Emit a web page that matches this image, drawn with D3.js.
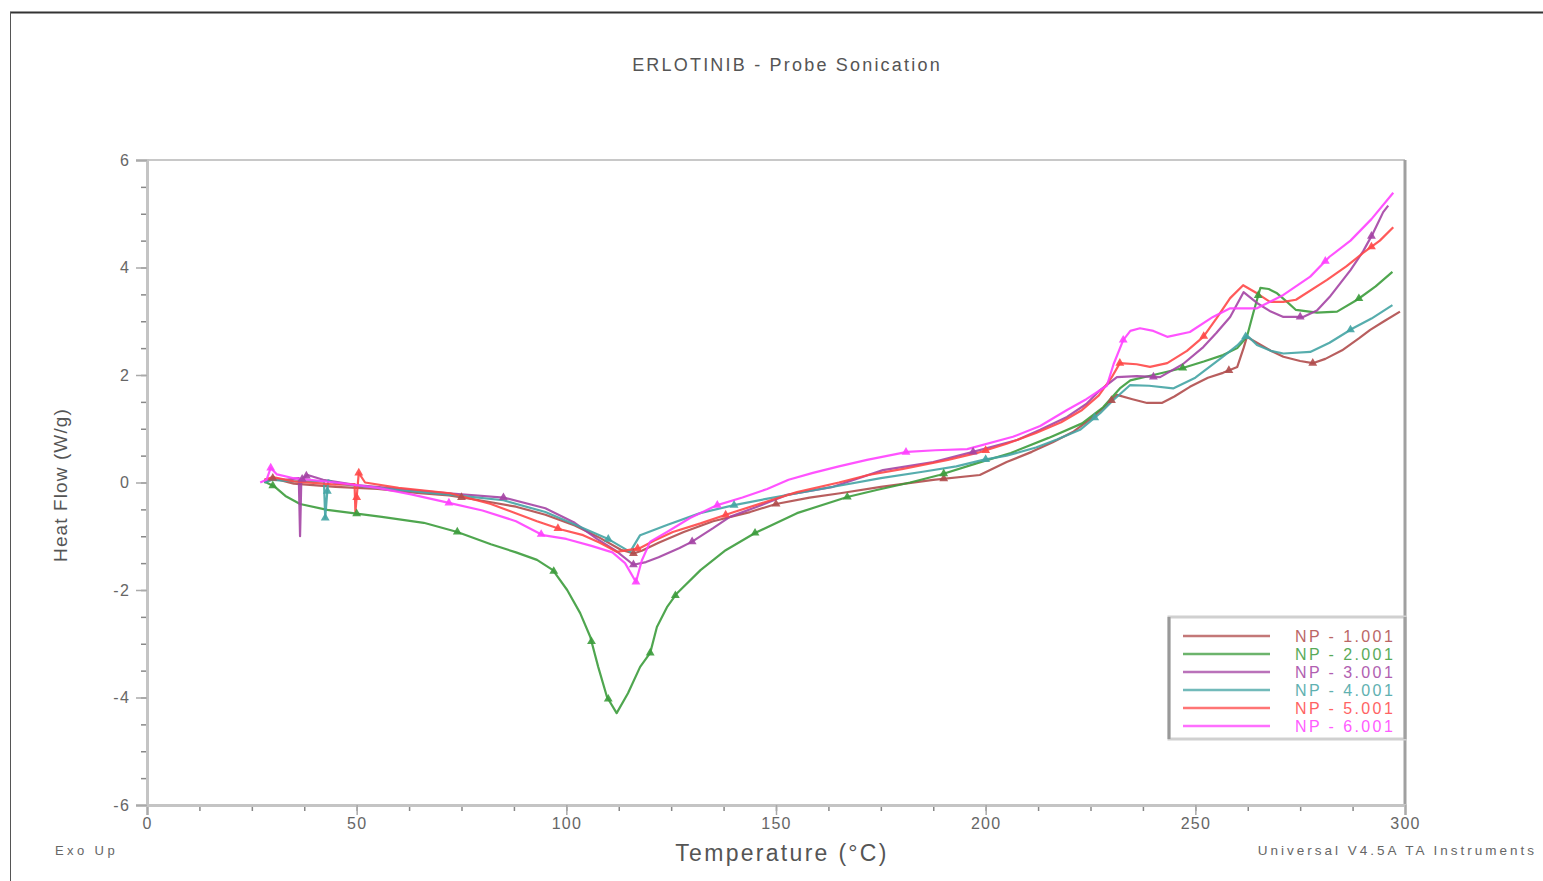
<!DOCTYPE html>
<html>
<head>
<meta charset="utf-8">
<script src="https://cdn.jsdelivr.net/npm/d3@7"></script>
<style>
  html, body { margin: 0; padding: 0; background: #fff; }
  svg { display: block; font-family: "Liberation Sans", Arial, sans-serif; }
</style>
</head>
<body>
<svg id="chart" width="1543" height="881"></svg>
<script>
// DSC thermograms: temperature (°C) vs heat flow (W/g), one run per formulation
const seriesNames = ["NP - 1.001", "NP - 2.001", "NP - 3.001", "NP - 4.001", "NP - 5.001", "NP - 6.001"];
const seriesColors = ["#b04c4c", "#3c9c3c", "#a444a4", "#44a4a4", "#ff4848", "#ff40ff"];

const np1 = [[28,0.0],[30,0.08],[35,-0.02],[45,-0.08],[55,-0.12],[65,-0.2],[72,-0.24],[80,-0.34],[88,-0.45],[95,-0.6],[102,-0.8],[108,-1.03],[113,-1.25],[116,-1.32],[118,-1.27],[122,-1.12],[128,-0.92],[135,-0.72],[143.8,-0.55],[150,-0.4],[158,-0.28],[165.3,-0.2],[175,-0.08],[187.5,0.05],[198.6,0.14],[205,0.38],[211,0.57],[216,0.75],[221,0.95],[225,1.18],[229,1.45],[231.3,1.63],[235,1.55],[238.5,1.48],[242,1.48],[245,1.6],[248.7,1.78],[253,1.95],[256.6,2.04],[260,2.15],[261.5,2.5],[262.3,2.71],[264.7,2.6],[268,2.45],[271,2.34],[275,2.26],[278,2.22],[281,2.3],[285,2.46],[289,2.68],[291.7,2.84],[295,3.0],[298.8,3.18]];

const np2 = [[28,0.02],[30.5,-0.08],[33,-0.25],[36.5,-0.4],[43,-0.51],[50,-0.58],[56,-0.64],[66,-0.75],[74,-0.92],[82,-1.15],[88,-1.3],[93,-1.44],[96.8,-1.63],[100.2,-2.0],[103.3,-2.43],[105.7,-2.87],[107.6,-3.43],[109.7,-3.99],[112,-4.29],[114.7,-3.92],[117.6,-3.43],[120,-3.17],[121.6,-2.69],[124,-2.32],[126.4,-2.06],[132,-1.63],[138,-1.26],[145,-0.94],[155,-0.57],[167,-0.27],[174,-0.14],[182,0.0],[189,0.14],[198,0.36],[206,0.55],[215,0.83],[223,1.1],[228,1.4],[232,1.75],[234.5,1.9],[240,2.0],[247,2.13],[252,2.25],[256.6,2.37],[260,2.5],[262.3,2.71],[263.8,3.15],[265.5,3.62],[267.5,3.6],[269.5,3.52],[272,3.35],[274,3.21],[279,3.16],[283.8,3.18],[288.6,3.4],[293,3.65],[297,3.92]];

const np3 = [[28,0.05],[30,0.08],[33,0.05],[36.2,0.08],[36.5,-1.0],[36.8,0.05],[38.3,0.14],[42,0.05],[50,-0.05],[60,-0.12],[72,-0.2],[85,-0.28],[95,-0.48],[102,-0.75],[107.3,-1.05],[112,-1.28],[116,-1.53],[119,-1.48],[122,-1.39],[127,-1.22],[130,-1.1],[135,-0.85],[139,-0.64],[145.5,-0.45],[152.6,-0.23],[163.6,-0.08],[175.5,0.23],[187.5,0.38],[197,0.57],[207.5,0.79],[213,0.98],[219.4,1.22],[224,1.46],[227.3,1.72],[231.3,1.96],[236,1.98],[241.6,1.96],[247,2.2],[251.9,2.52],[255,2.78],[258.3,3.08],[261.5,3.54],[264.7,3.34],[268,3.18],[271,3.08],[275.7,3.08],[279,3.2],[282,3.45],[287,3.95],[290,4.3],[292.4,4.64],[294.8,5.03],[296,5.15]];

const np4 = [[28,0.0],[30,0.05],[35,0.02],[42.2,0.02],[42.5,-0.66],[43.2,0.04],[45,-0.02],[50,-0.06],[60,-0.14],[75,-0.25],[85,-0.33],[95,-0.55],[102,-0.78],[109.7,-1.04],[115.2,-1.29],[117.6,-0.98],[124,-0.79],[131.9,-0.57],[140,-0.42],[148,-0.3],[155,-0.2],[165,-0.06],[175,0.08],[185,0.2],[193,0.3],[199.4,0.42],[205,0.5],[212,0.65],[217,0.8],[222.5,0.98],[227.3,1.29],[230.4,1.53],[234.4,1.81],[239,1.8],[244.7,1.75],[250,1.95],[256.6,2.34],[260,2.55],[262.3,2.74],[264.7,2.56],[268,2.45],[271,2.4],[277.4,2.43],[282,2.6],[287.6,2.87],[292,3.05],[297,3.3]];

const np5 = [[28,0.05],[30,0.1],[35,0.02],[45,-0.04],[49.5,-0.03],[49.7,-0.55],[50.5,0.18],[52,0.0],[60,-0.1],[72.3,-0.2],[82,-0.4],[93,-0.72],[99,-0.88],[104,-0.98],[108,-1.12],[112,-1.29],[117.6,-1.22],[121,-1.08],[125.4,-0.92],[132,-0.76],[140,-0.55],[148,-0.35],[155,-0.18],[165,0.0],[172,0.14],[180,0.25],[191,0.42],[198,0.55],[205,0.72],[212,0.92],[218,1.12],[223,1.35],[227,1.62],[230,1.95],[232,2.22],[236,2.2],[239.2,2.15],[243.3,2.22],[248,2.45],[251.9,2.71],[255,3.05],[258.3,3.43],[261.4,3.67],[264.7,3.52],[267.8,3.36],[271,3.36],[274,3.4],[281.4,3.77],[286,4.02],[290,4.27],[294,4.5],[297.2,4.75]];

const np6 = [[27,0.0],[28.5,0.05],[29.5,0.27],[31,0.15],[35,0.08],[45,0.0],[55,-0.1],[63,-0.22],[72,-0.38],[80,-0.52],[88,-0.72],[94.4,-0.98],[100,-1.05],[106,-1.18],[111,-1.3],[114,-1.5],[116.6,-1.85],[118,-1.45],[120,-1.1],[124,-0.92],[129.5,-0.66],[136,-0.42],[142,-0.28],[147.9,-0.12],[153,0.05],[158.8,0.18],[165,0.3],[171.7,0.42],[181.3,0.57],[188,0.6],[195.6,0.62],[206.5,0.85],[213,1.05],[219.4,1.35],[224,1.55],[228.9,1.8],[230.5,2.2],[232.8,2.65],[234.5,2.82],[236.8,2.87],[240,2.82],[243.3,2.71],[248.7,2.8],[254.2,3.08],[258.3,3.24],[264.7,3.24],[271,3.49],[277.4,3.83],[282,4.2],[287,4.5],[292,4.9],[297.2,5.39]];

const seriesData = [np1, np2, np3, np4, np5, np6];

// symbol positions along each trace (°C)
const markerTemps = [
  [30, 75, 116, 150, 190, 230, 258, 278],
  [30, 50, 74, 97, 106, 110, 120, 126, 145, 167, 190, 247, 265, 289],
  [37, 38, 85, 116, 130, 197, 240, 275, 292],
  [42.5, 43, 110, 140, 200, 226, 262, 287],
  [50, 50.5, 98, 117, 138, 200, 232, 252, 292],
  [29.5, 72, 94, 116.6, 136, 181, 232.8, 281]
];

const xTicksMajor = [0, 50, 100, 150, 200, 250, 300];
const yTicksMajor = [-6, -4, -2, 0, 2, 4, 6];

const titleText = "ERLOTINIB - Probe Sonication";
const xLabel = "Temperature (°C)";
const yLabel = "Heat Flow (W/g)";
const leftNote = "Exo Up";
const rightNote = "Universal V4.5A TA Instruments";

const svg = d3.select("#chart");
const W = 1543, H = 881;
const plot = { left: 147, right: 1405, top: 160, bottom: 805 };

const x = d3.scaleLinear().domain([0, 300]).range([plot.left, plot.right]);
const y = d3.scaleLinear().domain([-6, 6]).range([plot.bottom, plot.top]);

// outer page frame (top and left edges)
svg.append("line").attr("x1", 10).attr("x2", W).attr("y1", 12.5).attr("y2", 12.5)
  .attr("stroke", "#333").attr("stroke-width", 2);
svg.append("line").attr("x1", 10.5).attr("x2", 10.5).attr("y1", 12).attr("y2", H)
  .attr("stroke", "#555").attr("stroke-width", 1);

// title
svg.append("text").attr("x", 787).attr("y", 71).attr("text-anchor", "middle")
  .attr("font-size", 18).attr("letter-spacing", 2.2).attr("fill", "#555")
  .text(titleText);

// plot frame
svg.append("line").attr("x1", plot.left).attr("x2", plot.right).attr("y1", plot.top).attr("y2", plot.top)
  .attr("stroke", "#c8c8c8").attr("stroke-width", 2);
svg.append("line").attr("x1", plot.right).attr("x2", plot.right).attr("y1", plot.top).attr("y2", plot.bottom)
  .attr("stroke", "#a0a0a0").attr("stroke-width", 3);

// axes
const fmt = d => (d < 0 ? "-" : "") + Math.abs(d);
const xAxis = d3.axisBottom(x).tickValues(d3.range(0, 300.1, 12.5)).tickSize(6).tickFormat(() => "");
const xAxisMajor = d3.axisBottom(x).tickValues(xTicksMajor).tickSize(10).tickPadding(3).tickFormat(fmt);
const yAxis = d3.axisLeft(y).tickValues(d3.range(-6, 6.01, 0.5)).tickSize(6).tickFormat(() => "");
const yAxisMajor = d3.axisLeft(y).tickValues(yTicksMajor).tickSize(11).tickPadding(6).tickFormat(fmt);

function styleAxis(g, tickColor) {
  g.select(".domain").attr("stroke", "#c4c4c4").attr("stroke-width", 3);
  g.selectAll(".tick line").attr("stroke", tickColor).attr("stroke-width", 1.5);
  g.selectAll(".tick text").attr("fill", "#666").attr("font-size", 16).attr("letter-spacing", 1.2);
}

const gx = svg.append("g").attr("transform", `translate(0,${plot.bottom})`).call(xAxis);
styleAxis(gx, "#888");
const gxm = svg.append("g").attr("transform", `translate(0,${plot.bottom})`).call(xAxisMajor);
styleAxis(gxm, "#aaa");
const gy = svg.append("g").attr("transform", `translate(${plot.left},0)`).call(yAxis);
styleAxis(gy, "#888");
const gym = svg.append("g").attr("transform", `translate(${plot.left},0)`).call(yAxisMajor);
styleAxis(gym, "#aaa");

// axis titles and notes
svg.append("text").attr("x", 782).attr("y", 861).attr("text-anchor", "middle")
  .attr("font-size", 23).attr("letter-spacing", 2.3).attr("fill", "#555").text(xLabel);
svg.append("text").attr("transform", "translate(67,485) rotate(-90)").attr("text-anchor", "middle")
  .attr("font-size", 19).attr("letter-spacing", 1.1).attr("fill", "#555").text(yLabel);
svg.append("text").attr("x", 55).attr("y", 855).attr("font-size", 13).attr("letter-spacing", 3.4)
  .attr("fill", "#666").text(leftNote);
svg.append("text").attr("x", 1537).attr("y", 855).attr("text-anchor", "end").attr("font-size", 13.5)
  .attr("letter-spacing", 3.0).attr("fill", "#666").text(rightNote);

// traces
const line = d3.line().x(d => x(d[0])).y(d => y(d[1])).curve(d3.curveLinear);
const traces = svg.append("g");
seriesData.forEach((data, i) => {
  traces.append("path").datum(data).attr("d", line).attr("fill", "none")
    .attr("stroke", seriesColors[i]).attr("stroke-width", 2.2).attr("stroke-linejoin", "round")
    .attr("opacity", 0.9);
});

// triangle symbols placed on the traces
const bis = d3.bisector(d => d[0]).left;
function valueAt(data, t) {
  const j = Math.max(1, Math.min(data.length - 1, bis(data, t)));
  const a = data[j - 1], b = data[j];
  const f = (t - a[0]) / (b[0] - a[0]);
  return a[1] + (b[1] - a[1]) * Math.max(0, Math.min(1, f));
}
const tri = d3.symbol().type(d3.symbolTriangle).size(34);
seriesData.forEach((data, i) => {
  traces.selectAll(null).data(markerTemps[i]).enter().append("path")
    .attr("d", tri)
    .attr("transform", t => `translate(${x(t)},${y(valueAt(data, t))})`)
    .attr("fill", seriesColors[i]).attr("opacity", 0.9);
});

// legend
const lg = svg.append("g");
const lb = { x: 1169, y: 617, w: 236, h: 122 };
lg.append("rect").attr("x", lb.x).attr("y", lb.y).attr("width", lb.w).attr("height", lb.h)
  .attr("fill", "#fff").attr("stroke", "#d0d0d0").attr("stroke-width", 3);
lg.append("line").attr("x1", lb.x).attr("x2", lb.x).attr("y1", lb.y).attr("y2", lb.y + lb.h)
  .attr("stroke", "#999").attr("stroke-width", 3);
lg.append("line").attr("x1", lb.x + lb.w).attr("x2", lb.x + lb.w).attr("y1", lb.y).attr("y2", lb.y + lb.h)
  .attr("stroke", "#a0a0a0").attr("stroke-width", 3);
seriesNames.forEach((name, i) => {
  const yy = 636 + i * 18;
  lg.append("line").attr("x1", 1183).attr("x2", 1270).attr("y1", yy).attr("y2", yy)
    .attr("stroke", seriesColors[i]).attr("stroke-width", 2.5).attr("opacity", 0.75);
  lg.append("text").attr("x", 1295).attr("y", yy + 5.5).attr("font-size", 16)
    .attr("letter-spacing", 2.4).attr("fill", seriesColors[i]).attr("opacity", 0.85).text(name);
});
</script>
</body>
</html>
